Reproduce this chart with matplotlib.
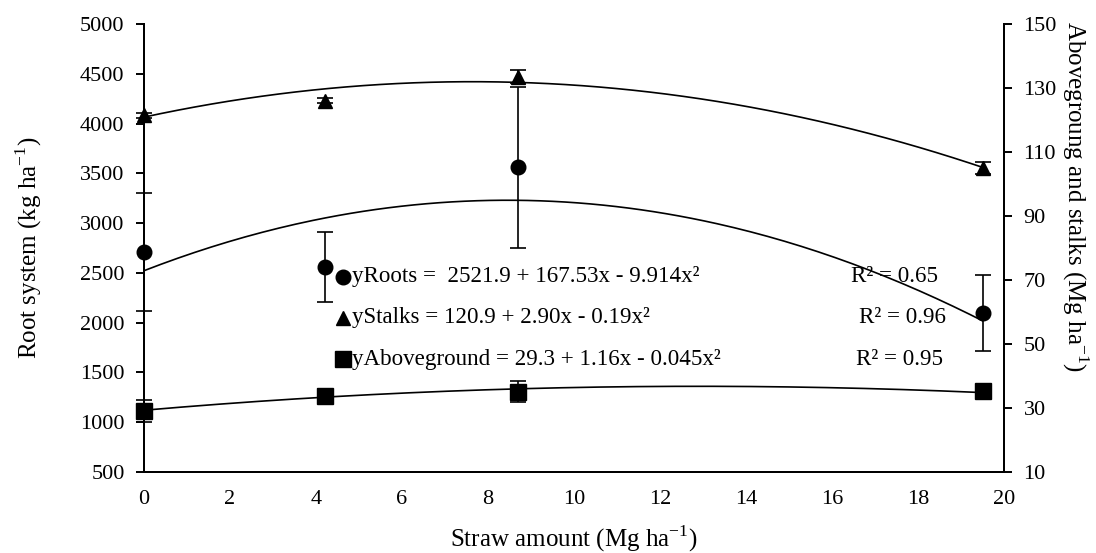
import numpy as np
import matplotlib
matplotlib.use('Agg')
import matplotlib.pyplot as plt
from matplotlib.lines import Line2D

plt.rcParams['font.family'] = ['Liberation Serif', 'DejaVu Serif']
plt.rcParams['mathtext.fontset'] = 'custom'
plt.rcParams['mathtext.rm'] = 'Liberation Serif'

# straw amounts (Mg ha-1)
straw = [0, 4.2, 8.7, 19.5]

# root system (kg ha-1), left axis
roots = [2712, 2561, 3559, 2100]
roots_err = [590, 350, 813, 380]

# stalks and aboveground (Mg ha-1), right axis
stalks = [121.5, 126, 133.5, 105]
stalks_err = [0.8, 0.8, 2, 2]
above = [29, 33.8, 35.1, 35.4]
above_err = [3.5, 2, 3.3, 1.5]

# trendline coefficients (c0, c1, c2)
roots_fit = [2521.9, 167.53, -9.914]
stalks_fit = [120.9, 2.90, -0.19]
above_fit = [29.3, 1.16, -0.045]

eq_labels = ['yRoots =  2521.9 + 167.53x - 9.914x²',
             'yStalks = 120.9 + 2.90x - 0.19x²',
             'yAboveground = 29.3 + 1.16x - 0.045x²']
r2_labels = ['R² = 0.65', 'R² = 0.96', 'R² = 0.95']
eq_markers = ['o', '^', 's']

left_ticks = list(range(500, 5001, 500))
right_ticks = list(range(10, 151, 20))
x_ticks = list(range(0, 21, 2))


def quad(c, x):
    return c[0] + c[1] * x + c[2] * x ** 2


fig = plt.figure(figsize=(10.96, 5.53), dpi=100)
ax = fig.add_axes([0.1314, 0.1465, 0.7847, 0.8101])
ax2 = ax.twinx()

xs = np.linspace(0, max(straw), 200)
lw_fit = 1.2
eb = dict(color='black', ecolor='black', elinewidth=1.2, capsize=6,
          capthick=1.2, clip_on=False, zorder=3)

ax.plot(xs, quad(roots_fit, xs), color='black', lw=lw_fit, zorder=2)
ax.errorbar(straw, roots, yerr=roots_err, fmt='o', ms=10.5, **eb)

ax2.plot(xs, quad(stalks_fit, xs), color='black', lw=lw_fit, zorder=2)
ax2.errorbar(straw, stalks, yerr=stalks_err, fmt='^', ms=10.5, **eb)
ax2.plot(xs, quad(above_fit, xs), color='black', lw=lw_fit, zorder=2)
ax2.errorbar(straw, above, yerr=above_err, fmt='s', ms=12, **eb)

ax.set_xlim(0, 20)
ax.set_ylim(500, 5000)
ax2.set_ylim(10, 150)
ax.set_xticks(x_ticks)
ax.set_yticks(left_ticks)
ax2.set_yticks(right_ticks)

for a in (ax, ax2):
    a.spines['top'].set_visible(False)
    for s in ('left', 'right', 'bottom'):
        a.spines[s].set_linewidth(1.4)
tick_fs = 16
ax.tick_params(axis='x', length=0, pad=13, labelsize=tick_fs)
ax.tick_params(axis='y', direction='out', length=6, width=1.4, pad=8,
               labelsize=tick_fs)
ax2.tick_params(axis='y', direction='out', length=6, width=1.4, pad=8,
                labelsize=tick_fs)

lab_fs = 18
ax.set_xlabel('Straw amount (Mg ha$^{-1}$)', fontsize=lab_fs)
ax.xaxis.set_label_coords(0.5, -0.1674)
ax.xaxis.label.set_va('baseline')
ax.set_ylabel('Root system (kg ha$^{-1}$)', fontsize=lab_fs)
ax.yaxis.set_label_coords(-0.1337, 0.5)
ax.yaxis.label.set_va('center')
ax2.set_ylabel('Abovegroung and stalks (Mg ha$^{-1}$)', fontsize=lab_fs,
               rotation=270)
ax2.yaxis.set_label_coords(1.0826, 0.616)
ax2.yaxis.label.set_va('center')
ax2.yaxis.label.set_ha('center')

# equation block
eq_fs = 16.6
rows = [0.4996, 0.425, 0.3508]
r2_x = [0.8166, 0.8236, 0.8203]
for mk, lab, r2, yy, rx in zip(eq_markers, eq_labels, r2_labels, rows, r2_x):
    fig.add_artist(Line2D([0.3127], [yy], marker=mk, color='black',
                          ms=12 if mk == 's' else 10.5, ls='none',
                          transform=fig.transFigure))
    fig.text(0.3215, yy, lab, fontsize=eq_fs, va='center', ha='left')
    fig.text(rx, yy, r2, fontsize=eq_fs, va='center', ha='center')

fig.savefig('out.png', dpi=100)
